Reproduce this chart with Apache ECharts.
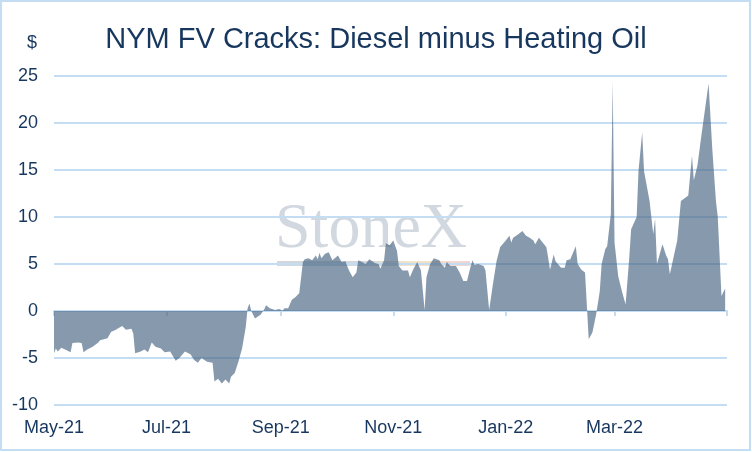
<!DOCTYPE html>
<html>
<head>
<meta charset="utf-8">
<script src="https://cdn.jsdelivr.net/npm/echarts@6/dist/echarts.min.js"></script>
<style>
  html, body { margin: 0; padding: 0; background: #fff; }
  #chart { width: 752px; height: 452px; }
</style>
</head>
<body>
<div id="chart"></div>
<script>
const START = '2021-05-01'

// x axis: tick dates every two months, labels as printed
const tickDates = ['2021-05-01', '2021-07-01', '2021-09-01', '2021-11-01', '2022-01-01', '2022-03-01', '2022-05-01']
const tickLabels = ['May-21', 'Jul-21', 'Sep-21', 'Nov-21', 'Jan-22', 'Mar-22', '']

// diesel minus heating oil crack, $
const obsDates = [
  '2021-05-01', '2021-05-02', '2021-05-03', '2021-05-05', '2021-05-07', '2021-05-10', '2021-05-11', '2021-05-14',
  '2021-05-16', '2021-05-17', '2021-05-19', '2021-05-22', '2021-05-25', '2021-05-26', '2021-05-30', '2021-06-01',
  '2021-06-03', '2021-06-07', '2021-06-09', '2021-06-12', '2021-06-13', '2021-06-14', '2021-06-17', '2021-06-19',
  '2021-06-21', '2021-06-23', '2021-06-25', '2021-06-28', '2021-06-30', '2021-07-03', '2021-07-06', '2021-07-08',
  '2021-07-11', '2021-07-14', '2021-07-16', '2021-07-18', '2021-07-20', '2021-07-23', '2021-07-26', '2021-07-27',
  '2021-07-29', '2021-07-31', '2021-08-02', '2021-08-04', '2021-08-05', '2021-08-07', '2021-08-09', '2021-08-11',
  '2021-08-13', '2021-08-14', '2021-08-15', '2021-08-16', '2021-08-18', '2021-08-19', '2021-08-21', '2021-08-23',
  '2021-08-24', '2021-08-26', '2021-08-29', '2021-08-31', '2021-09-02', '2021-09-03', '2021-09-05', '2021-09-07',
  '2021-09-09', '2021-09-11', '2021-09-13', '2021-09-14', '2021-09-16', '2021-09-18', '2021-09-20', '2021-09-21',
  '2021-09-22', '2021-09-23', '2021-09-25', '2021-09-27', '2021-09-29', '2021-09-30', '2021-10-02', '2021-10-04',
  '2021-10-06', '2021-10-08', '2021-10-10', '2021-10-12', '2021-10-13', '2021-10-15', '2021-10-17', '2021-10-19',
  '2021-10-20', '2021-10-22', '2021-10-24', '2021-10-25', '2021-10-27', '2021-10-28', '2021-10-30', '2021-11-01',
  '2021-11-03', '2021-11-04', '2021-11-06', '2021-11-07', '2021-11-09', '2021-11-10', '2021-11-12', '2021-11-14',
  '2021-11-16', '2021-11-18', '2021-11-19', '2021-11-21', '2021-11-23', '2021-11-26', '2021-11-27', '2021-11-29',
  '2021-11-30', '2021-12-02', '2021-12-05', '2021-12-07', '2021-12-09', '2021-12-11', '2021-12-13', '2021-12-14',
  '2021-12-15', '2021-12-17', '2021-12-20', '2021-12-21', '2021-12-23', '2021-12-25', '2021-12-27', '2021-12-29',
  '2021-12-30', '2022-01-01', '2022-01-03', '2022-01-04', '2022-01-05', '2022-01-08', '2022-01-10', '2022-01-11',
  '2022-01-12', '2022-01-14', '2022-01-16', '2022-01-17', '2022-01-19', '2022-01-21', '2022-01-23', '2022-01-24',
  '2022-01-25', '2022-01-27', '2022-01-28', '2022-01-31', '2022-02-02', '2022-02-03', '2022-02-05', '2022-02-06',
  '2022-02-08', '2022-02-09', '2022-02-11', '2022-02-13', '2022-02-15', '2022-02-17', '2022-02-19', '2022-02-21',
  '2022-02-22', '2022-02-24', '2022-02-25', '2022-02-27', '2022-02-28', '2022-03-01', '2022-03-03', '2022-03-05',
  '2022-03-07', '2022-03-09', '2022-03-10', '2022-03-13', '2022-03-14', '2022-03-16', '2022-03-17', '2022-03-20',
  '2022-03-22', '2022-03-23', '2022-03-24', '2022-03-27', '2022-03-29', '2022-03-30', '2022-03-31', '2022-04-04',
  '2022-04-06', '2022-04-10', '2022-04-12', '2022-04-13', '2022-04-15', '2022-04-17', '2022-04-21', '2022-04-23',
  '2022-04-25', '2022-04-26', '2022-04-28', '2022-04-30'
]
const crackValues = [
  -4.5, -4.0, -4.3, -3.9, -4.1, -4.4, -3.4, -3.35,
  -3.4, -4.4, -4.1, -3.8, -3.35, -3.1, -2.9, -2.2,
  -2.05, -1.6, -2.0, -1.9, -2.4, -4.5, -4.3, -4.1,
  -4.4, -3.35, -3.8, -4.0, -4.4, -4.3, -5.3, -5.0,
  -4.3, -4.6, -5.2, -5.5, -5.0, -5.4, -5.5, -7.5,
  -7.2, -7.7, -7.3, -7.7, -7.0, -6.6, -5.4, -4.0,
  -1.7, 0.3, 0.8, 0.0, -0.8, -0.8, -0.4, 0.15,
  0.6, 0.3, 0.1, 0.2, 0.05, 0.3, 0.3, 1.2,
  1.5, 1.9, 5.2, 5.5, 5.6, 5.4, 5.9, 5.5,
  6.2, 5.6, 6.1, 6.25, 5.4, 5.4, 5.9, 5.2,
  5.3, 4.3, 3.6, 4.1, 5.4, 5.2, 5.0, 5.5,
  5.4, 5.1, 5.0, 4.5, 5.4, 7.2, 7.0, 7.5,
  6.4, 4.8, 4.3, 4.1, 4.3, 3.6, 4.5, 5.2,
  4.3, 0.1, 3.6, 5.0, 5.6, 5.4, 5.0, 4.6,
  5.2, 4.8, 4.8, 4.1, 3.2, 3.2, 4.8, 5.4,
  4.9, 5.0, 4.8, 4.3, 0.1, 2.8, 5.3, 6.8,
  6.9, 7.5, 8.0, 7.3, 7.8, 8.2, 8.5, 8.7,
  8.0, 7.8, 7.5, 7.1, 7.8, 7.3, 6.8, 5.7,
  4.4, 6.0, 5.3, 4.6, 4.6, 5.4, 5.5, 5.7,
  6.9, 5.0, 4.4, 4.1, -3.0, -2.3, -0.4, 2.1,
  5.0, 6.6, 6.9, 10.3, 24.4, 7.3, 3.7, 2.1,
  0.7, 5.7, 8.7, 10.0, 14.9, 19.0, 14.9, 11.7,
  8.2, 9.8, 5.0, 7.1, 5.9, 5.5, 3.9, 7.5,
  11.7, 12.3, 16.5, 13.9, 15.5, 18.5, 24.2, 17.3,
  11.7, 10.0, 1.6, 2.4
]

const TEXT = '#17375e'
const GRID = '#c5ddf2'
const FONT = 'Liberation Sans, Arial, sans-serif'

function dayOf(s) {
  const [y, m, d] = s.split('-').map(Number)
  const [y0, m0, d0] = START.split('-').map(Number)
  return (Date.UTC(y, m - 1, d) - Date.UTC(y0, m0 - 1, d0)) / 86400000
}

const tickDays = tickDates.map(dayOf)
const labelOf = {}
tickDays.forEach((d, i) => { labelOf[d] = tickLabels[i] })
const seriesData = obsDates.map((s, i) => [dayOf(s), crackValues[i]])

const myChart = echarts.init(document.getElementById('chart'))

const option = {
  animation: false,
  title: {
    text: 'NYM FV Cracks: Diesel minus Heating Oil',
    left: 'center',
    top: 20,
    textStyle: { color: TEXT, fontSize: 29, fontWeight: 'normal', fontFamily: FONT }
  },
  graphic: [
    {
      type: 'rect', z: -10, silent: true,
      shape: { x: 1, y: 1, width: 749, height: 449 },
      style: { fill: 'none', stroke: GRID, lineWidth: 2 }
    },
    {
      type: 'text', left: 27, top: 34, z: 5,
      style: { text: '$', fill: TEXT, fontSize: 18, fontFamily: FONT }
    },
    {
      type: 'text', left: 275, top: 198, z: -5, silent: true,
      style: { text: 'StoneX', fill: '#d2d8df', fontSize: 64, fontFamily: 'Liberation Serif, DejaVu Serif, serif' }
    },
    {
      type: 'rect', z: -5, silent: true,
      shape: { x: 277, y: 261, width: 193, height: 5 },
      style: {
        fill: new echarts.graphic.LinearGradient(0, 0, 1, 0, [
          { offset: 0, color: '#d3d7dc' },
          { offset: 0.45, color: '#d3d7dc' },
          { offset: 0.7, color: '#f3e6c6' },
          { offset: 1, color: '#f2d3d3' }
        ])
      }
    }
  ],
  grid: { left: 54, right: 25, top: 76, bottom: 47, containLabel: false },
  xAxis: [
    {
      type: 'value',
      min: 0,
      max: tickDays[tickDays.length - 1],
      position: 'bottom',
      axisLine: { show: false, onZero: false },
      axisTick: { show: false },
      splitLine: { show: false },
      axisLabel: {
        customValues: tickDays.slice(0, -1),
        formatter: v => labelOf[v] || '',
        color: TEXT,
        fontSize: 18,
        margin: 14,
        fontFamily: FONT
      }
    },
    {
      type: 'value',
      min: 0,
      max: tickDays[tickDays.length - 1],
      position: 'bottom',
      axisLine: { show: true, onZero: true, lineStyle: { color: GRID, width: 2 } },
      axisTick: { show: true, customValues: tickDays, length: 5, inside: false, lineStyle: { color: GRID, width: 2 } },
      axisLabel: { show: false },
      splitLine: { show: false }
    }
  ],
  yAxis: {
    type: 'value',
    min: -10,
    max: 25,
    interval: 5,
    axisLine: { show: false },
    axisTick: { show: false },
    axisLabel: { color: TEXT, fontSize: 18, margin: 16, fontFamily: FONT },
    splitLine: { lineStyle: { color: GRID, width: 2 } }
  },
  series: [
    {
      type: 'line',
      xAxisIndex: 0,
      data: seriesData,
      showSymbol: false,
      symbol: 'none',
      z: 3,
      lineStyle: { width: 0 },
      areaStyle: { color: '#44607d', opacity: 0.64, origin: 0 }
    }
  ]
}

myChart.setOption(option)
</script>
</body>
</html>
